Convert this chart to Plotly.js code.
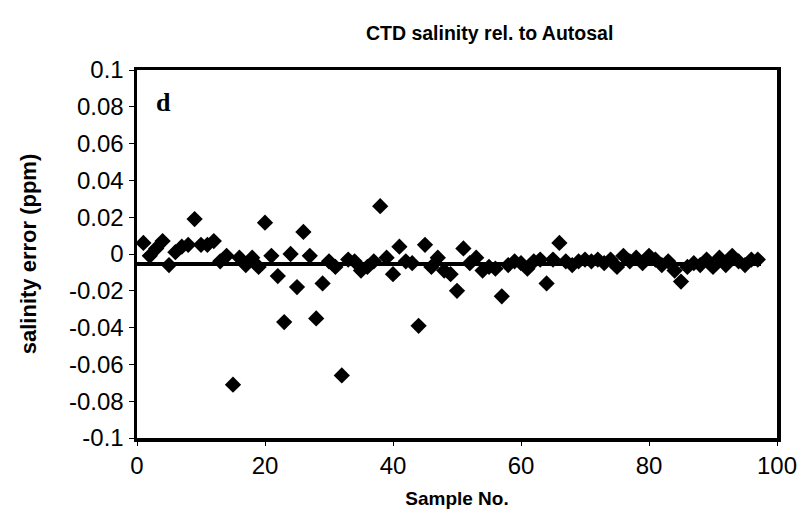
<!DOCTYPE html>
<html>
<head>
<meta charset="utf-8">
<script src="https://cdn.plot.ly/plotly-3.0.1.min.js"></script>
<style>html,body{margin:0;padding:0;background:#fff;}#chart{width:808px;height:529px;}</style>
</head>
<body>
<div id="chart"></div>
<script>
// Sample numbers
const sampleNo = [];
for (let i = 1; i <= 97; i++) sampleNo.push(i);

// CTD salinity error relative to Autosal (ppm)
const salinityError = [
  0.006, -0.001, 0.003, 0.007, -0.006, 0.001, 0.004, 0.005, 0.019, 0.005,
  0.005, 0.007, -0.004, -0.001, -0.071, -0.002, -0.006, -0.002, -0.007, 0.017,
  -0.001, -0.012, -0.037, 0.000, -0.018, 0.012, -0.001, -0.035, -0.016, -0.004,
  -0.007, -0.066, -0.003, -0.004, -0.009, -0.007, -0.004, 0.026, -0.002, -0.011,
  0.004, -0.004, -0.005, -0.039, 0.005, -0.007, -0.002, -0.009, -0.011, -0.020,
  0.003, -0.005, -0.002, -0.009, -0.007, -0.008, -0.023, -0.006, -0.004, -0.005,
  -0.008, -0.004, -0.003, -0.016, -0.003, 0.006, -0.004, -0.006, -0.004, -0.003,
  -0.004, -0.003, -0.005, -0.003, -0.007, -0.001, -0.004, -0.002, -0.005, -0.001,
  -0.003, -0.006, -0.004, -0.009, -0.015, -0.007, -0.005, -0.006, -0.003, -0.007,
  -0.002, -0.006, -0.001, -0.004, -0.006, -0.003, -0.003
];

// Mean offset line (value and the sample span it is drawn over)
const meanOffset = -0.0055;
const meanLineX = [0, 97.5];

// Tick labels
const yTickVals = [0.1, 0.08, 0.06, 0.04, 0.02, 0, -0.02, -0.04, -0.06, -0.08, -0.1];
const yTickText = ["0.1", "0.08", "0.06", "0.04", "0.02", "0", "-0.02", "-0.04", "-0.06", "-0.08", "-0.1"];
const xTickVals = [0, 20, 40, 60, 80, 100];
const xTickText = ["0", "20", "40", "60", "80", "100"];

const traces = [
  {
    x: meanLineX, y: meanLineX.map(() => meanOffset), type: 'scatter', mode: 'lines',
    line: {color: '#000', width: 4}, hoverinfo: 'skip', showlegend: false
  },
  {
    x: sampleNo, y: salinityError, type: 'scatter', mode: 'markers',
    marker: {symbol: 'diamond', size: 12.5, color: '#000', line: {width: 0}},
    showlegend: false
  }
];

const font = 'Liberation Sans, Arial, sans-serif';

const layout = {
  width: 808, height: 529,
  paper_bgcolor: '#fff', plot_bgcolor: '#fff',
  margin: {l: 137, r: 31, t: 70, b: 91},
  title: {
    text: '<b>CTD salinity rel. to Autosal</b>',
    font: {family: font, size: 19.5, color: '#000'},
    x: 0.606, xanchor: 'center', y: 0.937, yanchor: 'middle'
  },
  xaxis: {
    range: [0, 100],
    tickvals: xTickVals, ticktext: xTickText,
    ticks: 'outside', ticklen: 4, tickwidth: 1, tickcolor: '#000',
    showline: true, linecolor: '#000', linewidth: 3.5, mirror: true,
    showgrid: false, zeroline: false,
    tickfont: {family: font, size: 24, color: '#000'},
    title: {text: '<b>Sample No.</b>', font: {family: font, size: 19, color: '#000'}, standoff: 14}
  },
  yaxis: {
    range: [-0.1, 0.1],
    tickvals: yTickVals, ticktext: yTickText,
    ticks: 'outside', ticklen: 5, tickwidth: 1, tickcolor: '#000',
    showline: true, linecolor: '#000', linewidth: 3.5, mirror: true,
    showgrid: false, zeroline: false,
    tickfont: {family: font, size: 24, color: '#000'},
    title: {text: '<b>salinity error (ppm)</b>', font: {family: font, size: 22, color: '#000'}, standoff: 27}
  },
  annotations: [
    {
      text: '<b>d</b>', xref: 'paper', yref: 'paper', x: 0.042, y: 0.912,
      xanchor: 'center', yanchor: 'middle', showarrow: false,
      font: {family: 'Liberation Serif, Times New Roman, serif', size: 26, color: '#000'}
    }
  ]
};

Plotly.newPlot('chart', traces, layout, {displayModeBar: false, staticPlot: true});
</script>
</body>
</html>
